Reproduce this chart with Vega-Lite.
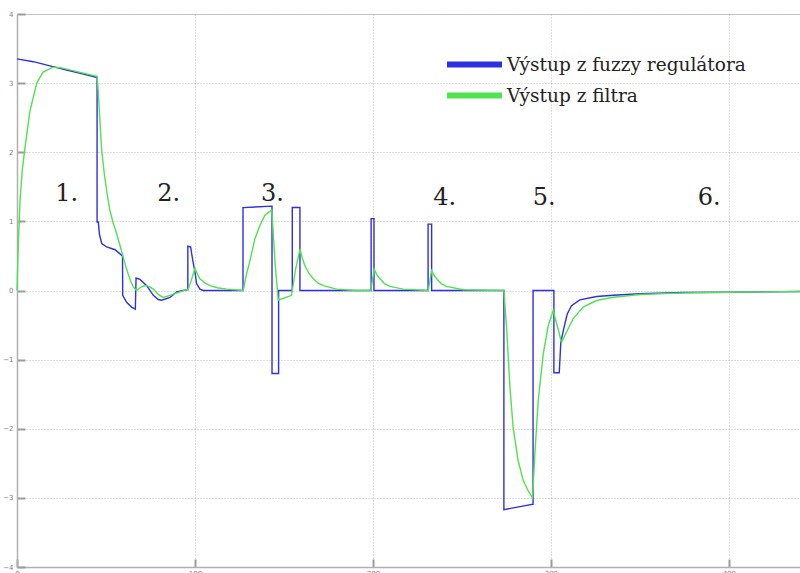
{
  "$schema": "https://vega.github.io/schema/vega-lite/v6.json",
  "autosize": "none",
  "width": 783,
  "height": 553,
  "padding": {"left": 17, "top": 14, "right": 0, "bottom": 6},
  "background": "white",
  "config": {
    "view": {"stroke": "#c4c4c4", "strokeWidth": 1},
    "axis": {
      "grid": true,
      "gridDash": [1, 2],
      "gridColor": "#bdbdbd",
      "gridWidth": 1,
      "domainColor": "#b0b0b0",
      "domainWidth": 1.5,
      "tickColor": "#9a9a9a",
      "tickWidth": 2,
      "tickSize": -8,
      "labelFontSize": 7,
      "labelColor": "#808080",
      "labelFont": "DejaVu Sans",
      "title": null
    },
    "legend": {"labelFont": "DejaVu Serif", "labelFontSize": 18.5, "labelColor": "#222222"}
  },
  "datasets": {
    "lines": [
      {"t": 0, "v": 3.35, "s": "Výstup z fuzzy regulátora"},
      {"t": 9.2, "v": 3.31, "s": "Výstup z fuzzy regulátora"},
      {"t": 18.5, "v": 3.25, "s": "Výstup z fuzzy regulátora"},
      {"t": 27.9, "v": 3.19, "s": "Výstup z fuzzy regulátora"},
      {"t": 37.3, "v": 3.13, "s": "Výstup z fuzzy regulátora"},
      {"t": 45.0, "v": 3.08, "s": "Výstup z fuzzy regulátora"},
      {"t": 45.0, "v": 0.99, "s": "Výstup z fuzzy regulátora"},
      {"t": 45.7, "v": 0.99, "s": "Výstup z fuzzy regulátora"},
      {"t": 46.3, "v": 0.82, "s": "Výstup z fuzzy regulátora"},
      {"t": 47.6, "v": 0.68, "s": "Výstup z fuzzy regulátora"},
      {"t": 50.4, "v": 0.63, "s": "Výstup z fuzzy regulátora"},
      {"t": 55.1, "v": 0.59, "s": "Výstup z fuzzy regulátora"},
      {"t": 57.9, "v": 0.53, "s": "Výstup z fuzzy regulátora"},
      {"t": 59.3, "v": 0.5, "s": "Výstup z fuzzy regulátora"},
      {"t": 59.4, "v": -0.07, "s": "Výstup z fuzzy regulátora"},
      {"t": 61.6, "v": -0.17, "s": "Výstup z fuzzy regulátora"},
      {"t": 64.4, "v": -0.24, "s": "Výstup z fuzzy regulátora"},
      {"t": 66.5, "v": -0.27, "s": "Výstup z fuzzy regulátora"},
      {"t": 66.9, "v": 0.18, "s": "Výstup z fuzzy regulátora"},
      {"t": 69.1, "v": 0.16, "s": "Výstup z fuzzy regulátora"},
      {"t": 72.9, "v": 0.07, "s": "Výstup z fuzzy regulátora"},
      {"t": 76.6, "v": -0.07, "s": "Výstup z fuzzy regulátora"},
      {"t": 79.4, "v": -0.13, "s": "Výstup z fuzzy regulátora"},
      {"t": 81.3, "v": -0.14, "s": "Výstup z fuzzy regulátora"},
      {"t": 86.0, "v": -0.1, "s": "Výstup z fuzzy regulátora"},
      {"t": 89.7, "v": -0.02, "s": "Výstup z fuzzy regulátora"},
      {"t": 95.3, "v": 0.01, "s": "Výstup z fuzzy regulátora"},
      {"t": 96.0, "v": 0.01, "s": "Výstup z fuzzy regulátora"},
      {"t": 96.0, "v": 0.64, "s": "Výstup z fuzzy regulátora"},
      {"t": 97.6, "v": 0.63, "s": "Výstup z fuzzy regulátora"},
      {"t": 98.1, "v": 0.54, "s": "Výstup z fuzzy regulátora"},
      {"t": 99.1, "v": 0.39, "s": "Výstup z fuzzy regulátora"},
      {"t": 100.0, "v": 0.27, "s": "Výstup z fuzzy regulátora"},
      {"t": 100.9, "v": 0.1, "s": "Výstup z fuzzy regulátora"},
      {"t": 102.8, "v": 0.02, "s": "Výstup z fuzzy regulátora"},
      {"t": 104.7, "v": 0.0, "s": "Výstup z fuzzy regulátora"},
      {"t": 127.0, "v": 0.0, "s": "Výstup z fuzzy regulátora"},
      {"t": 127.0, "v": 1.2, "s": "Výstup z fuzzy regulátora"},
      {"t": 143.3, "v": 1.22, "s": "Výstup z fuzzy regulátora"},
      {"t": 143.3, "v": -1.2, "s": "Výstup z fuzzy regulátora"},
      {"t": 147.0, "v": -1.2, "s": "Výstup z fuzzy regulátora"},
      {"t": 147.0, "v": 0.0, "s": "Výstup z fuzzy regulátora"},
      {"t": 154.7, "v": 0.0, "s": "Výstup z fuzzy regulátora"},
      {"t": 154.7, "v": 1.2, "s": "Výstup z fuzzy regulátora"},
      {"t": 159.0, "v": 1.2, "s": "Výstup z fuzzy regulátora"},
      {"t": 159.0, "v": 0.0, "s": "Výstup z fuzzy regulátora"},
      {"t": 199.0, "v": 0.0, "s": "Výstup z fuzzy regulátora"},
      {"t": 199.0, "v": 1.04, "s": "Výstup z fuzzy regulátora"},
      {"t": 200.6, "v": 1.04, "s": "Výstup z fuzzy regulátora"},
      {"t": 200.6, "v": 0.0, "s": "Výstup z fuzzy regulátora"},
      {"t": 231.0, "v": 0.0, "s": "Výstup z fuzzy regulátora"},
      {"t": 231.0, "v": 0.96, "s": "Výstup z fuzzy regulátora"},
      {"t": 233.0, "v": 0.96, "s": "Výstup z fuzzy regulátora"},
      {"t": 233.0, "v": 0.0, "s": "Výstup z fuzzy regulátora"},
      {"t": 273.6, "v": 0.0, "s": "Výstup z fuzzy regulátora"},
      {"t": 273.6, "v": -3.17, "s": "Výstup z fuzzy regulátora"},
      {"t": 290.0, "v": -3.09, "s": "Výstup z fuzzy regulátora"},
      {"t": 290.0, "v": 0.0, "s": "Výstup z fuzzy regulátora"},
      {"t": 301.7, "v": 0.0, "s": "Výstup z fuzzy regulátora"},
      {"t": 301.7, "v": -1.19, "s": "Výstup z fuzzy regulátora"},
      {"t": 304.7, "v": -1.19, "s": "Výstup z fuzzy regulátora"},
      {"t": 305.6, "v": -0.75, "s": "Výstup z fuzzy regulátora"},
      {"t": 307.0, "v": -0.58, "s": "Výstup z fuzzy regulátora"},
      {"t": 307.9, "v": -0.48, "s": "Výstup z fuzzy regulátora"},
      {"t": 309.2, "v": -0.34, "s": "Výstup z fuzzy regulátora"},
      {"t": 311.6, "v": -0.22, "s": "Výstup z fuzzy regulátora"},
      {"t": 316.3, "v": -0.135, "s": "Výstup z fuzzy regulátora"},
      {"t": 325.7, "v": -0.087, "s": "Výstup z fuzzy regulátora"},
      {"t": 335.0, "v": -0.068, "s": "Výstup z fuzzy regulátora"},
      {"t": 350.0, "v": -0.048, "s": "Výstup z fuzzy regulátora"},
      {"t": 375.0, "v": -0.03, "s": "Výstup z fuzzy regulátora"},
      {"t": 400.0, "v": -0.025, "s": "Výstup z fuzzy regulátora"},
      {"t": 440.0, "v": -0.015, "s": "Výstup z fuzzy regulátora"},
      {"t": 0, "v": 0.0, "s": "Výstup z filtra"},
      {"t": 0.5, "v": 0.45, "s": "Výstup z filtra"},
      {"t": 1.0, "v": 0.85, "s": "Výstup z filtra"},
      {"t": 1.7, "v": 1.3, "s": "Výstup z filtra"},
      {"t": 3.0, "v": 1.75, "s": "Výstup z filtra"},
      {"t": 4.5, "v": 2.07, "s": "Výstup z filtra"},
      {"t": 7.3, "v": 2.6, "s": "Výstup z filtra"},
      {"t": 11.1, "v": 3.0, "s": "Výstup z filtra"},
      {"t": 14.6, "v": 3.16, "s": "Výstup z filtra"},
      {"t": 20.2, "v": 3.23, "s": "Výstup z filtra"},
      {"t": 25.0, "v": 3.22, "s": "Výstup z filtra"},
      {"t": 35.0, "v": 3.16, "s": "Výstup z filtra"},
      {"t": 45.0, "v": 3.1, "s": "Výstup z filtra"},
      {"t": 45.6, "v": 2.9, "s": "Výstup z filtra"},
      {"t": 46.5, "v": 2.5, "s": "Výstup z filtra"},
      {"t": 47.6, "v": 2.03, "s": "Výstup z filtra"},
      {"t": 49.0, "v": 1.7, "s": "Výstup z filtra"},
      {"t": 50.5, "v": 1.42, "s": "Výstup z filtra"},
      {"t": 52.2, "v": 1.16, "s": "Výstup z filtra"},
      {"t": 54.0, "v": 0.98, "s": "Výstup z filtra"},
      {"t": 56.0, "v": 0.82, "s": "Výstup z filtra"},
      {"t": 58.0, "v": 0.64, "s": "Výstup z filtra"},
      {"t": 59.7, "v": 0.48, "s": "Výstup z filtra"},
      {"t": 61.0, "v": 0.36, "s": "Výstup z filtra"},
      {"t": 62.5, "v": 0.24, "s": "Výstup z filtra"},
      {"t": 64.0, "v": 0.13, "s": "Výstup z filtra"},
      {"t": 65.4, "v": 0.05, "s": "Výstup z filtra"},
      {"t": 67.2, "v": 0.0, "s": "Výstup z filtra"},
      {"t": 69.1, "v": 0.04, "s": "Výstup z filtra"},
      {"t": 71.0, "v": 0.065, "s": "Výstup z filtra"},
      {"t": 72.9, "v": 0.07, "s": "Výstup z filtra"},
      {"t": 74.8, "v": 0.05, "s": "Výstup z filtra"},
      {"t": 76.6, "v": 0.02, "s": "Výstup z filtra"},
      {"t": 79.5, "v": -0.06, "s": "Výstup z filtra"},
      {"t": 82.2, "v": -0.1, "s": "Výstup z filtra"},
      {"t": 86.0, "v": -0.07, "s": "Výstup z filtra"},
      {"t": 91.6, "v": -0.02, "s": "Výstup z filtra"},
      {"t": 96.2, "v": 0.02, "s": "Výstup z filtra"},
      {"t": 98.0, "v": 0.15, "s": "Výstup z filtra"},
      {"t": 100.0, "v": 0.32, "s": "Výstup z filtra"},
      {"t": 101.3, "v": 0.24, "s": "Výstup z filtra"},
      {"t": 102.8, "v": 0.17, "s": "Výstup z filtra"},
      {"t": 105.5, "v": 0.11, "s": "Výstup z filtra"},
      {"t": 108.4, "v": 0.07, "s": "Výstup z filtra"},
      {"t": 112.5, "v": 0.04, "s": "Výstup z filtra"},
      {"t": 117.8, "v": 0.02, "s": "Výstup z filtra"},
      {"t": 127.1, "v": 0.0, "s": "Výstup z filtra"},
      {"t": 129.0, "v": 0.24, "s": "Výstup z filtra"},
      {"t": 130.9, "v": 0.43, "s": "Výstup z filtra"},
      {"t": 133.7, "v": 0.75, "s": "Výstup z filtra"},
      {"t": 136.5, "v": 0.94, "s": "Výstup z filtra"},
      {"t": 139.3, "v": 1.09, "s": "Výstup z filtra"},
      {"t": 141.3, "v": 1.13, "s": "Výstup z filtra"},
      {"t": 143.2, "v": 1.16, "s": "Výstup z filtra"},
      {"t": 145.0, "v": 0.4, "s": "Výstup z filtra"},
      {"t": 146.8, "v": -0.14, "s": "Výstup z filtra"},
      {"t": 154.3, "v": -0.07, "s": "Výstup z filtra"},
      {"t": 156.5, "v": 0.3, "s": "Výstup z filtra"},
      {"t": 159.0, "v": 0.6, "s": "Výstup z filtra"},
      {"t": 160.3, "v": 0.47, "s": "Výstup z filtra"},
      {"t": 161.8, "v": 0.36, "s": "Výstup z filtra"},
      {"t": 164.0, "v": 0.25, "s": "Výstup z filtra"},
      {"t": 166.5, "v": 0.17, "s": "Výstup z filtra"},
      {"t": 169.0, "v": 0.11, "s": "Výstup z filtra"},
      {"t": 172.1, "v": 0.07, "s": "Výstup z filtra"},
      {"t": 179.6, "v": 0.02, "s": "Výstup z filtra"},
      {"t": 190.0, "v": 0.0, "s": "Výstup z filtra"},
      {"t": 198.8, "v": 0.0, "s": "Výstup z filtra"},
      {"t": 200.7, "v": 0.31, "s": "Výstup z filtra"},
      {"t": 202.2, "v": 0.23, "s": "Výstup z filtra"},
      {"t": 204.0, "v": 0.17, "s": "Výstup z filtra"},
      {"t": 206.5, "v": 0.1, "s": "Výstup z filtra"},
      {"t": 209.6, "v": 0.06, "s": "Výstup z filtra"},
      {"t": 217.0, "v": 0.02, "s": "Výstup z filtra"},
      {"t": 231.1, "v": 0.0, "s": "Výstup z filtra"},
      {"t": 233.0, "v": 0.29, "s": "Výstup z filtra"},
      {"t": 234.3, "v": 0.22, "s": "Výstup z filtra"},
      {"t": 235.8, "v": 0.17, "s": "Výstup z filtra"},
      {"t": 238.3, "v": 0.1, "s": "Výstup z filtra"},
      {"t": 241.4, "v": 0.06, "s": "Výstup z filtra"},
      {"t": 250.7, "v": 0.01, "s": "Výstup z filtra"},
      {"t": 273.6, "v": 0.0, "s": "Výstup z filtra"},
      {"t": 275.1, "v": -0.53, "s": "Výstup z filtra"},
      {"t": 277.0, "v": -1.4, "s": "Výstup z filtra"},
      {"t": 278.8, "v": -1.98, "s": "Výstup z filtra"},
      {"t": 281.6, "v": -2.46, "s": "Výstup z filtra"},
      {"t": 284.5, "v": -2.75, "s": "Výstup z filtra"},
      {"t": 287.3, "v": -2.9, "s": "Výstup z filtra"},
      {"t": 289.7, "v": -3.0, "s": "Výstup z filtra"},
      {"t": 291.0, "v": -2.37, "s": "Výstup z filtra"},
      {"t": 292.9, "v": -1.59, "s": "Výstup z filtra"},
      {"t": 295.7, "v": -0.92, "s": "Výstup z filtra"},
      {"t": 298.5, "v": -0.51, "s": "Výstup z filtra"},
      {"t": 301.3, "v": -0.29, "s": "Výstup z filtra"},
      {"t": 304.1, "v": -0.56, "s": "Výstup z filtra"},
      {"t": 306.0, "v": -0.75, "s": "Výstup z filtra"},
      {"t": 308.8, "v": -0.6, "s": "Výstup z filtra"},
      {"t": 312.5, "v": -0.41, "s": "Výstup z filtra"},
      {"t": 318.1, "v": -0.24, "s": "Výstup z filtra"},
      {"t": 325.7, "v": -0.145, "s": "Výstup z filtra"},
      {"t": 335.0, "v": -0.097, "s": "Výstup z filtra"},
      {"t": 350.0, "v": -0.058, "s": "Výstup z filtra"},
      {"t": 375.0, "v": -0.035, "s": "Výstup z filtra"},
      {"t": 400.0, "v": -0.025, "s": "Výstup z filtra"},
      {"t": 440.0, "v": -0.015, "s": "Výstup z filtra"}
    ],
    "labels": [
      {"t": 27.9, "v": 1.29, "label": "1."},
      {"t": 85.3, "v": 1.29, "label": "2."},
      {"t": 143.5, "v": 1.29, "label": "3."},
      {"t": 240.4, "v": 1.23, "label": "4."},
      {"t": 296.3, "v": 1.23, "label": "5."},
      {"t": 389.0, "v": 1.23, "label": "6."}
    ]
  },
  "layer": [
    {
      "data": {"name": "lines"},
      "mark": {"type": "line", "strokeWidth": 1.4, "interpolate": "linear"},
      "encoding": {
        "x": {
          "field": "t", "type": "quantitative",
          "scale": {"domain": [0, 440], "nice": false, "zero": false},
          "axis": {"values": [0, 100, 200, 300, 400], "format": "d", "labelPadding": 10, "labelFlush": false}
        },
        "y": {
          "field": "v", "type": "quantitative",
          "scale": {"domain": [-4, 4], "nice": false},
          "axis": {"values": [-4, -3, -2, -1, 0, 1, 2, 3, 4], "format": "d", "labelPadding": 12}
        },
        "color": {
          "field": "s", "type": "nominal",
          "scale": {"domain": ["Výstup z fuzzy regulátora", "Výstup z filtra"], "range": ["#2f2fe2", "#4fe34f"]},
          "legend": {
            "title": null,
            "orient": "none",
            "legendX": 427,
            "legendY": 35,
            "padding": 0,
            "symbolType": "stroke",
            "symbolSize": 3025,
            "symbolStrokeWidth": 6,
            "labelFont": "DejaVu Serif",
            "labelFontSize": 18.5,
            "labelColor": "#222222",
            "labelOffset": 2,
            "rowPadding": 0,
            "clipHeight": 31,
            "labelLimit": 400,
            "encode": {"labels": {"update": {"font": {"value": "DejaVu Serif"}}}}
          }
        },
        "order": {"value": null}
      }
    },
    {
      "data": {"name": "labels"},
      "mark": {"type": "text", "font": "DejaVu Serif", "fontSize": 24, "color": "#222222", "align": "center", "baseline": "alphabetic"},
      "encoding": {
        "x": {"field": "t", "type": "quantitative"},
        "y": {"field": "v", "type": "quantitative"},
        "text": {"field": "label"}
      }
    }
  ]
}
